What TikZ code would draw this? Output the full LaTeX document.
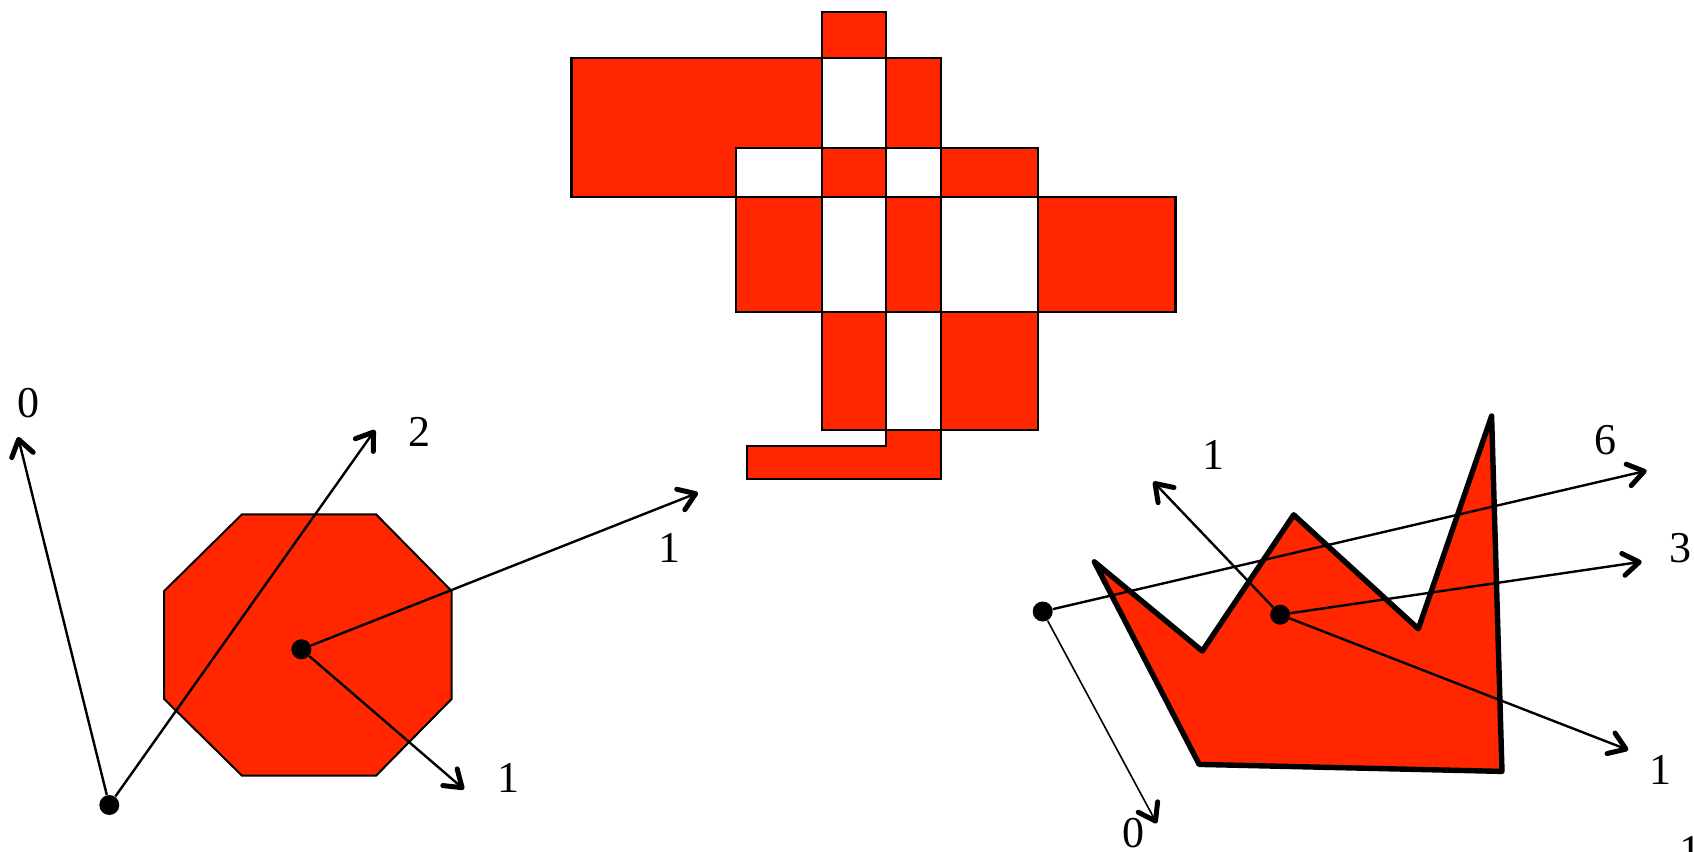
\documentclass[tikz,border=0pt]{standalone}
\usepackage{fontspec}
\setmainfont{Liberation Serif}
\usetikzlibrary{arrows.meta}
\definecolor{regionred}{RGB}{255,38,0}
\tikzset{
 cell/.style={draw,line width=1.1pt},
 octline/.style={draw,fill=regionred,line width=1pt},
 crownline/.style={draw,fill=regionred,line width=2.7pt,line join=round},
 ray/.style={line width=1.2pt,-{Straight Barb[length=8pt,width=11pt,line width=2.5pt,round]}},
 thinray/.style={ray,line width=0.8pt},
 testpt/.style={circle,fill,inner sep=0,minimum size=10pt},
 windnum/.style={font=\fontsize{22}{26}\selectfont,inner sep=0}
}
\begin{document}
\begin{tikzpicture}[x=0.5pt,y=-0.5pt]
\useasboundingbox (0,0) rectangle (1694,852);
% overlapping rectangles, even-odd cells
\draw[cell,fill=regionred] (571.5,58) -- (822,58) -- (822,148) -- (736,148) -- (736,197) -- (571.5,197) -- cycle;
\foreach \xa/\ya/\xb/\yb/\col in {822/12/886/58/regionred, 886/58/941/148/regionred, 822/148/886/197/regionred,
  941/148/1038/197/regionred, 736/197/822/312/regionred, 886/197/941/312/regionred, 1038/197/1175.5/312/regionred,
  822/312/886/430/regionred, 941/312/1038/430/regionred,
  822/58/886/148/white, 736/148/822/197/white, 886/148/941/197/white,
  822/197/886/312/white, 941/197/1038/312/white, 886/312/941/430/white}
  \draw[cell,fill=\col] (\xa,\ya) rectangle (\xb,\yb);
\draw[cell,fill=regionred] (747,446) -- (886,446) -- (886,430) -- (941,430) -- (941,479) -- (747,479) -- cycle;
% octagon
\draw[octline] (242,514.3) -- (376,514.3) -- (451.6,591) -- (451.6,699) -- (376,775.7) -- (242,775.7) -- (164.2,699) -- (164.2,591) -- cycle;
\node[testpt] (oa) at (109.3,805) {};
\node[testpt] (ob) at (301.4,649.3) {};
\coordinate (oa0) at (18,437);
\coordinate (oa2) at (375,430);
\coordinate (ob1) at (698,492.7);
\coordinate (ob1b) at (464,789.3);
\draw[ray] (oa) -- (oa0);
\draw[ray] (oa) -- (oa2);
\draw[ray] (ob) -- (ob1);
\draw[ray] (ob) -- (ob1b);
\node[windnum] (loa0) at (28.3,403.3) {0};
\node[windnum] (loa2) at (419.6,431.7) {2};
\node[windnum] (lob1) at (669.6,548.3) {1};
\node[windnum] (lob1b) at (508,778.3) {1};
% crown
\draw[crownline] (1094.3,561.8) -- (1202.3,651) -- (1293.7,514.8) -- (1418.3,628.8) -- (1491.6,416) -- (1502,771.4) -- (1199.2,764.4) -- cycle;
\node[testpt] (ca) at (1042.7,611.5) {};
\node[testpt] (cb) at (1280.2,614.7) {};
\coordinate (ca6) at (1646.7,470.7);
\coordinate (ca0) at (1156.7,823.3);
\coordinate (cb1) at (1153.3,481.7);
\coordinate (cb3) at (1641.7,561.7);
\coordinate (cb1b) at (1628.3,750);
\draw[ray] (ca) -- (ca6);
\draw[thinray] (ca) -- (ca0);
\draw[ray] (cb) -- (cb1);
\draw[ray] (cb) -- (cb3);
\draw[ray] (cb) -- (cb1b);
\node[windnum] (lca6) at (1605,440) {6};
\node[windnum] (lca0) at (1133,833) {0};
\node[windnum] (lcb1) at (1213,455) {1};
\node[windnum] (lcb3) at (1680,548) {3};
\node[windnum] (lcb1b) at (1660,770) {1};
\node[windnum] (lcorner) at (1690,851) {1};
\end{tikzpicture}
\end{document}
